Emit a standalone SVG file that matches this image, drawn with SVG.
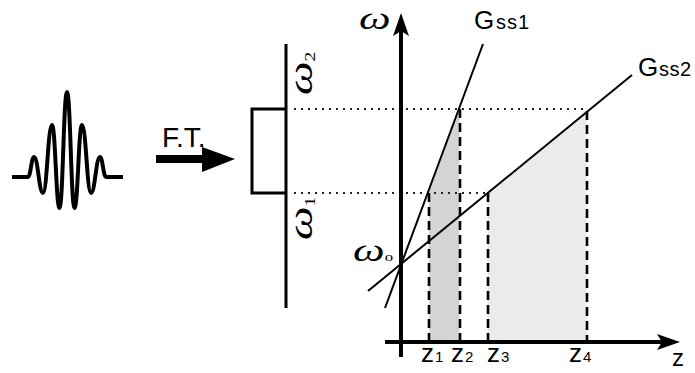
<svg xmlns="http://www.w3.org/2000/svg" width="695" height="373" viewBox="0 0 695 373">
<style>
.sans{font-family:"Liberation Sans",Arial,sans-serif;fill:#000}
.om{font-family:"Liberation Serif","DejaVu Serif",serif;font-style:italic;fill:#000}
.dash{stroke:#000;stroke-width:2.6;stroke-dasharray:9 5;fill:none}
.dot{stroke:#222;stroke-width:2;stroke-dasharray:2 5;fill:none}
.thin{stroke:#000;stroke-width:2;fill:none}
</style>
<defs>
<marker id="ah" markerUnits="userSpaceOnUse" markerWidth="40" markerHeight="40" viewBox="-20 -20 40 40" refX="0" refY="0" orient="auto">
<path d="M15,0 L-8,-8 L-3,0 L-8,8 Z" fill="#000"/>
</marker>
</defs>
<rect width="695" height="373" fill="#fff"/>

<g id="pulse">
<path d="M12,177 L28,177 C30.7,177 31.3,157 34,157 C38,157 39,193 43,193 C47,193 48,125 52,125 C55.4,125 56.1,208 59.5,208 C62.9,208 63.6,92 67,92 C70.4,92 71.1,208 74.5,208 C77.9,208 78.6,125 82,125 C86,125 87,193 91,193 C95,193 96,157 100,157 C102.7,157 103.3,177 106,177 L123,177" fill="none" stroke="#000" stroke-width="4" stroke-linejoin="round"/>
</g>

<g id="ft-arrow">
<text class="sans" x="162" y="147" font-size="28">F.T.</text>
<rect x="156" y="155" width="48" height="8" fill="#000"/>
<path d="M202,147 L235,159 L202,172 Z" fill="#000"/>
</g>

<g id="spectrum">
<line x1="286" y1="44" x2="286" y2="308" stroke="#000" stroke-width="3"/>
<path d="M286,109 L252,109 L252,193 L286,193" fill="none" stroke="#000" stroke-width="3"/>
<text class="om" font-size="34" transform="translate(312,95) rotate(-90) scale(1.4,1)">ω<tspan font-size="14" font-style="normal" dy="3">2</tspan></text>
<text class="om" font-size="34" transform="translate(312,240) rotate(-90) scale(1.4,1)">ω<tspan font-size="14" font-style="normal" dy="3">1</tspan></text>
</g>

<g id="shading">
<polygon points="429,193 459.5,109 459.5,342 429,342" fill="#d4d4d4"/>
<polygon points="488,193 587,111 587,342 488,342" fill="#ebebeb"/>
</g>

<g id="connectors">
<line class="dot" x1="294" y1="109" x2="587" y2="109"/>
<line class="dot" x1="294" y1="193" x2="488" y2="193"/>
<line class="dash" x1="429" y1="193" x2="429" y2="342"/>
<line class="dash" x1="460" y1="109" x2="460" y2="342"/>
<line class="dash" x1="488" y1="193" x2="488" y2="342"/>
<line class="dash" x1="587" y1="111" x2="587" y2="342"/>
<line class="thin" x1="385" y1="308" x2="483" y2="44"/>
<line class="thin" x1="368" y1="291" x2="632" y2="75"/>
</g>

<g id="axes">
<line x1="401" y1="357" x2="401" y2="28" stroke="#000" stroke-width="4" marker-end="url(#ah)"/>
<line x1="385" y1="342" x2="665" y2="342" stroke="#000" stroke-width="4" marker-end="url(#ah)"/>
<text class="om" font-size="32" transform="translate(359,29) scale(1.4,1)">ω</text>
<text class="om" font-size="32" transform="translate(353,261) scale(1.4,1)">ω<tspan font-size="12" font-style="normal">o</tspan></text>
<text class="sans" x="672" y="366" font-size="24">z</text>
</g>

<g id="labels">
<text class="sans" x="474" y="29" font-size="26">G<tspan x="496" font-size="20" letter-spacing="1">ss1</tspan></text>
<text class="sans" x="638" y="76" font-size="26">G<tspan x="659" font-size="20" letter-spacing="0.5">ss2</tspan></text>
<text class="sans" x="421" y="362" font-size="26">z<tspan x="435" font-size="15">1</tspan></text>
<text class="sans" x="451" y="362" font-size="26">z<tspan x="465" font-size="15">2</tspan></text>
<text class="sans" x="487" y="362" font-size="26">z<tspan x="501" font-size="15">3</tspan></text>
<text class="sans" x="569" y="362" font-size="26">z<tspan x="583" font-size="15">4</tspan></text>
</g>
</svg>
